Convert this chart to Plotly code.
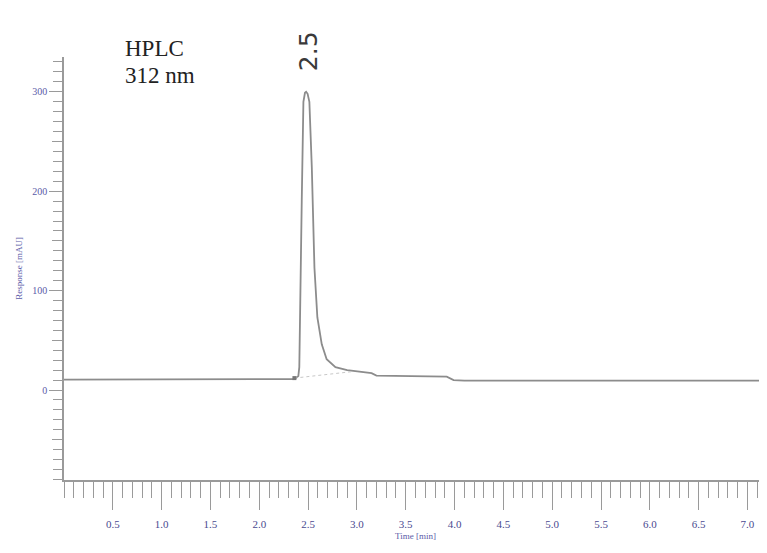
import plotly.graph_objects as go

# chromatogram trace
time_min = [0.00, 2.30, 2.36, 2.40, 2.41, 2.435, 2.452, 2.468, 2.48, 2.495, 2.513, 2.538,
            2.565, 2.595, 2.64, 2.69, 2.78, 2.90, 3.05, 3.15, 3.20, 3.60, 3.92, 3.99, 4.10, 7.20]
response = [10.5, 10.5, 11.0, 14.0, 23, 190, 290, 299, 300, 298, 290, 224,
            123, 73, 46, 31, 23, 20, 18, 17, 14.5, 14, 13.5, 10, 9.5, 9.5]

# integration baseline under the peak
base_t = [2.36, 2.95]
base_r = [12.0, 18.5]

peak_label = "2.5"
peak_label_t = 2.5
peak_label_r = 341

y_ticks = [0, 100, 200, 300]
x_ticks = [0.5, 1.0, 1.5, 2.0, 2.5, 3.0, 3.5, 4.0, 4.5, 5.0, 5.5, 6.0, 6.5, 7.0]

y_range = [-90.5, 335]
x_range = [0, 7.2]

axis_grey = "#9a9a9a"
label_blue = "#5a5aa8"

fig = go.Figure()
fig.add_trace(go.Scatter(x=time_min, y=response, mode="lines",
                         line=dict(color="#8c8c8c", width=1.8), showlegend=False,
                         hoverinfo="skip"))
fig.add_trace(go.Scatter(x=base_t, y=base_r, mode="lines",
                         line=dict(color="#c8c8c8", width=1, dash="dot"), showlegend=False,
                         hoverinfo="skip"))
fig.add_trace(go.Scatter(x=[base_t[0]], y=[base_r[0]], mode="markers",
                         marker=dict(symbol="square", size=4, color="#777777"),
                         showlegend=False, hoverinfo="skip"))
# invisible trace for the overlay y axis (medium ticks every 50)
fig.add_trace(go.Scatter(x=[None], y=[None], yaxis="y2", showlegend=False))

label_paper_y = (peak_label_r - y_range[0]) / (y_range[1] - y_range[0])
fig.add_annotation(x=peak_label_t, xref="x", yref="paper", y=label_paper_y,
                   text=peak_label, textangle=-90,
                   showarrow=False, xanchor="center", yanchor="middle",
                   font=dict(family="DejaVu Sans", size=25, color="#3a3a3a"))
fig.add_annotation(xref="paper", yref="paper", x=0.084, y=1.021, text="HPLC",
                   showarrow=False, xanchor="left", yanchor="middle",
                   font=dict(family="Liberation Serif", size=23, color="#222222"))
fig.add_annotation(xref="paper", yref="paper", x=0.084, y=0.957, text="312 nm",
                   showarrow=False, xanchor="left", yanchor="middle",
                   font=dict(family="Liberation Serif", size=23, color="#222222"))

fig.update_layout(
    width=759, height=545,
    margin=dict(l=56, r=0, t=49, b=73),
    paper_bgcolor="white", plot_bgcolor="white",
    xaxis=dict(range=x_range, tickvals=x_ticks, ticktext=[f"{v:.1f}" for v in x_ticks],
               automargin=False,
               showgrid=False, zeroline=False, showline=True, linecolor=axis_grey,
               linewidth=1.5, ticks="outside", ticklen=28, tickcolor=axis_grey,
               tickwidth=1, ticklabelstandoff=5,
               tickfont=dict(family="Liberation Serif", size=11, color="#4a4a90"),
               minor=dict(dtick=0.1, tick0=0, ticks="outside", ticklen=16,
                          tickcolor=axis_grey, tickwidth=1),
               title=dict(text="Time [min]", standoff=4,
                          font=dict(family="Liberation Serif", size=9, color=label_blue))),
    yaxis=dict(range=y_range, tickvals=y_ticks, showgrid=False, zeroline=False,
               automargin=False,
               showline=True, linecolor=axis_grey, linewidth=1.5, ticks="outside",
               ticklen=13, tickcolor=axis_grey, tickwidth=1,
               tickfont=dict(family="Liberation Serif", size=10, color=label_blue),
               minor=dict(dtick=10, tick0=0, ticks="outside", ticklen=9,
                          tickcolor=axis_grey, tickwidth=1),
               title=dict(text="Response [mAU]", standoff=8,
                          font=dict(family="Liberation Serif", size=9, color=label_blue))),
    yaxis2=dict(range=y_range, overlaying="y", side="left", dtick=50, tick0=0,
                automargin=False,
                showgrid=False, zeroline=False, showline=False, showticklabels=False,
                ticks="outside", ticklen=11, tickcolor=axis_grey, tickwidth=1),
)

fig.write_html("out.html")
